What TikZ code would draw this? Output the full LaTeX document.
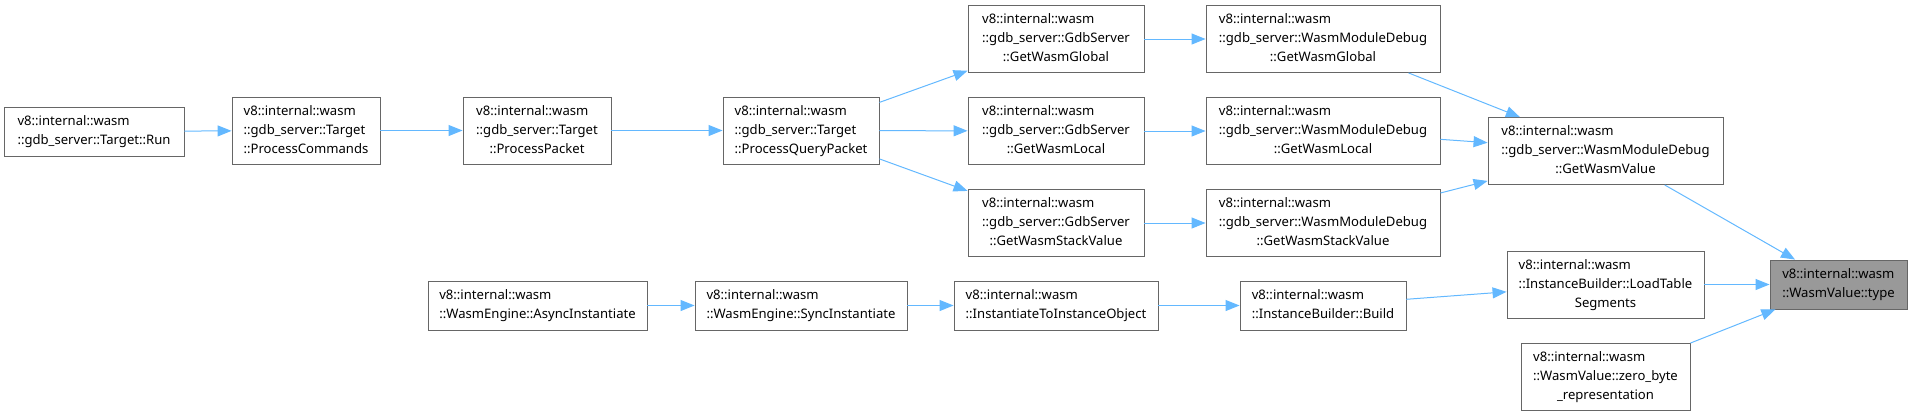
\documentclass[tikz,border=0pt]{standalone}
\usepackage{fontspec}
\setmainfont{Noto Sans}
\usepackage{xcolor}
\usepackage{tikz}
\usetikzlibrary{arrows.meta}

\definecolor{edgeblue}{HTML}{63B8FF}
\definecolor{boxgray}{HTML}{666666}
\definecolor{curfill}{HTML}{999999}

\newcommand{\fnlines}[1]{\begin{tabular}{@{}l@{}}#1\end{tabular}}
\newcommand{\lastc}[1]{\multicolumn{1}{@{}c@{}}{#1}}

\tikzset{
  fn/.style={draw=boxgray, fill=white, line width=0.9pt, inner sep=0pt,
    font=\fontsize{13.1}{19}\selectfont, minimum height=49pt},
  fnthree/.style={fn, minimum height=67pt},
  call/.style={draw=edgeblue, line width=1pt, -{Triangle[length=14pt,width=11pt]}},
}

\begin{document}
\begin{tikzpicture}[x=1pt, y=-1pt]
\useasboundingbox (0,0) rectangle (1912,416);

% upper chain: gdb server
\node[fn, minimum width=180pt] (run) at (94,131.5) {\fnlines{v8::internal::wasm\\::gdb\_server::Target::Run}};
\node[fnthree, minimum width=148pt] (pcmd) at (306,130.5) {\fnlines{v8::internal::wasm\\::gdb\_server::Target\\\lastc{::ProcessCommands}}};
\node[fnthree, minimum width=148pt] (ppkt) at (537,130.5) {\fnlines{v8::internal::wasm\\::gdb\_server::Target\\\lastc{::ProcessPacket}}};
\node[fnthree, minimum width=156pt] (pqp) at (801,130.5) {\fnlines{v8::internal::wasm\\::gdb\_server::Target\\\lastc{::ProcessQueryPacket}}};

\node[fnthree, minimum width=176pt] (gsglob) at (1056,39) {\fnlines{v8::internal::wasm\\::gdb\_server::GdbServer\\\lastc{::GetWasmGlobal}}};
\node[fnthree, minimum width=176pt] (gsloc) at (1056,131) {\fnlines{v8::internal::wasm\\::gdb\_server::GdbServer\\\lastc{::GetWasmLocal}}};
\node[fnthree, minimum width=176pt] (gsstk) at (1056,223) {\fnlines{v8::internal::wasm\\::gdb\_server::GdbServer\\\lastc{::GetWasmStackValue}}};

\node[fnthree, minimum width=234pt] (mdglob) at (1323,39) {\fnlines{v8::internal::wasm\\::gdb\_server::WasmModuleDebug\\\lastc{::GetWasmGlobal}}};
\node[fnthree, minimum width=234pt] (mdloc) at (1323,131) {\fnlines{v8::internal::wasm\\::gdb\_server::WasmModuleDebug\\\lastc{::GetWasmLocal}}};
\node[fnthree, minimum width=234pt] (mdstk) at (1323,223) {\fnlines{v8::internal::wasm\\::gdb\_server::WasmModuleDebug\\\lastc{::GetWasmStackValue}}};

\node[fnthree, minimum width=235pt] (getval) at (1605.5,151) {\fnlines{v8::internal::wasm\\::gdb\_server::WasmModuleDebug\\\lastc{::GetWasmValue}}};

% lower chain: instantiation
\node[fn, minimum width=219pt] (async) at (537.5,305.5) {\fnlines{v8::internal::wasm\\::WasmEngine::AsyncInstantiate}};
\node[fn, minimum width=212pt] (sync) at (801,305.5) {\fnlines{v8::internal::wasm\\::WasmEngine::SyncInstantiate}};
\node[fn, minimum width=204pt] (inst) at (1056,305.5) {\fnlines{v8::internal::wasm\\::InstantiateToInstanceObject}};
\node[fn, minimum width=166pt] (build) at (1323,305.5) {\fnlines{v8::internal::wasm\\::InstanceBuilder::Build}};
\node[fnthree, minimum width=197pt] (lts) at (1605.5,284.5) {\fnlines{v8::internal::wasm\\::InstanceBuilder::LoadTable\\\lastc{Segments}}};
\node[fnthree, minimum width=169pt] (zero) at (1605.5,376.5) {\fnlines{v8::internal::wasm\\::WasmValue::zero\_byte\\\lastc{\_representation}}};

% the function itself
\node[fn, fill=curfill, minimum width=137pt] (type) at (1838.5,284.5) {\fnlines{v8::internal::wasm\\::WasmValue::type}};

\draw[call] (run) -- (pcmd);
\draw[call] (pcmd) -- (ppkt);
\draw[call] (ppkt) -- (pqp);
\draw[call] (pqp) -- (gsglob);
\draw[call] (pqp) -- (gsloc);
\draw[call] (pqp) -- (gsstk);
\draw[call] (gsglob) -- (mdglob);
\draw[call] (gsloc) -- (mdloc);
\draw[call] (gsstk) -- (mdstk);
\draw[call] (mdglob) -- (getval);
\draw[call] (mdloc) -- (getval);
\draw[call] (mdstk) -- (getval);
\draw[call] (getval) -- (type);
\draw[call] (async) -- (sync);
\draw[call] (sync) -- (inst);
\draw[call] (inst) -- (build);
\draw[call] (build) -- (lts);
\draw[call] (lts) -- (type);
\draw[call] (zero) -- (type);
\end{tikzpicture}
\end{document}
